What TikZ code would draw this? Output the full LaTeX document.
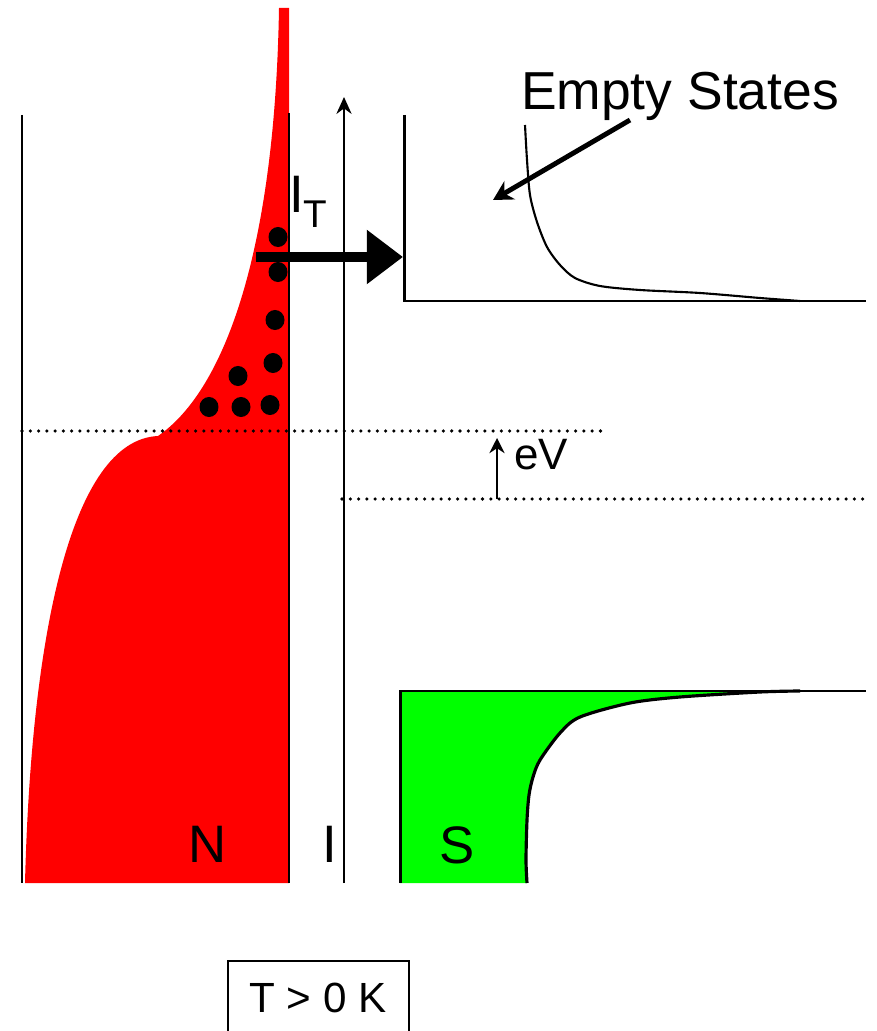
\documentclass[tikz,border=0pt]{standalone}
\usepackage{fontspec}
\setmainfont{Liberation Sans}
\usetikzlibrary{arrows.meta}

\tikzset{level/.style={line width=1pt, line cap=round, dash pattern=on 0pt off 2.35pt}}

\begin{document}
\begin{tikzpicture}[x=0.01cm, y=-0.01cm, >=Stealth, line width=0.7pt]
        \useasboundingbox (0,0) rectangle (877,1031);

        \fill[red] (279,8) -- (289,8) -- (289,883) -- (25,883) .. controls (31,640) and (70,440) .. (158,436)
              .. controls (225,390) and (275,250) .. (279,8) -- cycle;
        \draw (22,115) -- (22,883);
        \draw (289,113) -- (289,883);
        \foreach \px/\py in {278/237, 278/272, 275/320, 273/363, 238/376, 209/407, 241/407, 270/405}
              \fill (\px,\py) ellipse [x radius=2.7pt, y radius=2.85pt];

        \coordinate (bartop) at (344,97);
        \coordinate (barbot) at (344,883);
        \draw[-{Stealth[length=4.8pt, width=4.3pt]}] (barbot) -- (bartop);

        \fill[green] (400,691) -- plot[smooth] coordinates {(800,691) (760,692) (680,697) (630,703) (580,717) (560,733) (540,760) (533,777) (529,795) (527,820) (526,860) (527,883)} -- (400,883) -- cycle;
        \draw[line width=0.85pt] (400,883) -- (400,691) -- (866,691);
        \draw[line width=0.9pt] plot[smooth] coordinates {(800,691) (760,692) (680,697) (630,703) (580,717) (560,733) (540,760) (533,777) (529,795) (527,820) (526,860) (527,883)};

        \draw[line width=0.85pt] (404,115) -- (404,301) -- (866,301);
        \draw[line width=0.6pt] plot[smooth] coordinates {(525,125) (527,160) (530,195) (537,222) (547,247) (560,265) (575,278) (600,286) (640,290) (700,293) (760,298) (800,301)};

        \draw[level] (22,431) -- (608,431);
        \draw[level] (342,499) -- (866,499);

        \coordinate (evbot) at (497,499);
        \coordinate (evtop) at (497,438);
        \draw[-{Stealth[length=4.3pt, width=4.3pt]}, line width=0.7pt] (evbot) -- (evtop);
        \node[anchor=base west, inner sep=0pt, font=\fontsize{12.5}{12.5}\selectfont] (ev) at (513,469) {eV};

        \coordinate (itail) at (256,257);
        \coordinate (itip) at (403,257);
        \draw[-{Triangle[length=10.3pt, width=14.8pt]}, line width=3.1pt] (itail) -- (itip);
        \node[anchor=base west, inner sep=0pt, font=\fontsize{15}{15}\selectfont] (it) at (288,213) {I\raisebox{-0.28em}{\fontsize{11}{11}\selectfont T}};

        \node[anchor=base, font=\fontsize{15.2}{15.2}\selectfont] (empty) at (680,110) {Empty States};
        \coordinate (emptytail) at (630,120);
        \coordinate (emptytip) at (493,200);
        \draw[-{Stealth[length=5.5pt, width=6pt]}, line width=1.4pt] (emptytail) -- (emptytip);

        \node[anchor=base, font=\fontsize{15}{15}\selectfont] (nlabel) at (208,862) {N};
        \node[anchor=base, font=\fontsize{15}{15}\selectfont] (ilabel) at (330,862) {I};
        \node[anchor=base, font=\fontsize{15}{15}\selectfont] (slabel) at (457,863) {S};

        \draw (228,1040) -- (228,961) -- (409,961) -- (409,1040);
        \node[anchor=base, font=\fontsize{12}{12}\selectfont] (temp) at (318,1012) {T > 0 K};
      \end{tikzpicture}
\end{document}
